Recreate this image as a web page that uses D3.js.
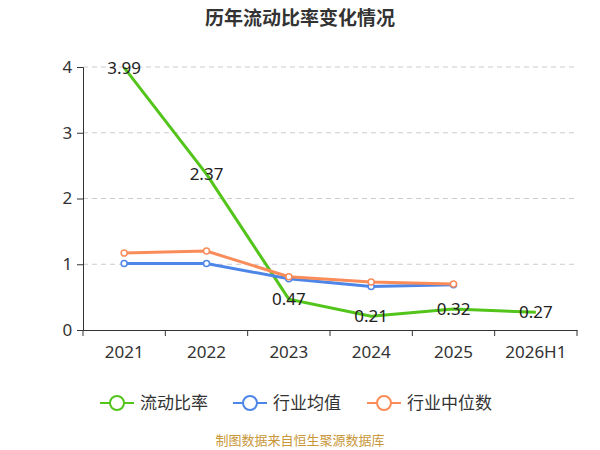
<!DOCTYPE html>
<html><head><meta charset="utf-8">
<script src="https://cdn.jsdelivr.net/npm/d3@7"></script>
<style>body{margin:0;background:#fff;font-family:"Noto Sans","Noto Sans CJK SC",sans-serif}</style>
</head><body><div id="chart"></div>
<script>
const categories = ["2021", "2022", "2023", "2024", "2025", "2026H1"];
const currentRatio = [3.99, 2.37, 0.47, 0.21, 0.32, 0.27];
const industryMean = [1.01, 1.01, 0.78, 0.66, 0.69];
const industryMedian = [1.17, 1.20, 0.81, 0.73, 0.70];
const yTicks = [0, 1, 2, 3, 4];
const seriesNames = ["流动比率", "行业均值", "行业中位数"];
const colors = ["#52c41a", "#4e86e8", "#fa8c5a"];

const W = 600, H = 450;
const m = {left: 83, right: 23, top: 67, bottom: 120};
const svg = d3.select("#chart").append("svg").attr("width", W).attr("height", H);

svg.append("text").attr("x", W / 2).attr("y", 25).attr("text-anchor", "middle")
  .attr("font-size", 19).attr("font-weight", "bold").attr("fill", "#333").text("历年流动比率变化情况");

const x = d3.scaleBand().domain(categories).range([m.left, W - m.right]);
const y = d3.scaleLinear().domain([0, 4]).range([H - m.bottom, m.top]);
const cx = d => x(d) + x.bandwidth() / 2;

svg.append("g").selectAll("line").data(yTicks.slice(1)).enter().append("line")
  .attr("x1", m.left).attr("x2", W - m.right).attr("y1", d => y(d)).attr("y2", d => y(d))
  .attr("stroke", "#ccc").attr("stroke-dasharray", "5,4");

const yAxis = svg.append("g").attr("transform", `translate(${m.left},0)`)
  .call(d3.axisLeft(y).tickValues(yTicks).tickSize(6).tickFormat(d3.format("d")));
const xAxis = svg.append("g").attr("transform", `translate(0,${y(0)})`)
  .call(d3.axisBottom(x).tickSize(6).tickSizeOuter(0));
xAxis.selectAll(".tick line").attr("transform", `translate(${-x.bandwidth() / 2},0)`);
xAxis.append("line").attr("x1", W - m.right).attr("x2", W - m.right).attr("y1", 0).attr("y2", 6).attr("stroke", "#333");
[yAxis, xAxis].forEach(a => {
  a.selectAll("path,line").attr("stroke", "#333");
  a.selectAll("text").attr("font-size", 17).attr("fill", "#333").attr("font-family", "Noto Sans");
});
xAxis.selectAll("text").attr("dy", "1.1em");
yAxis.selectAll("text").attr("dx", "-0.1em");

const line = d3.line().x((d, i) => cx(categories[i])).y(d => y(d));
const series = [currentRatio, industryMean, industryMedian];
series.forEach((s, k) => {
  svg.append("path").datum(s).attr("d", line).attr("fill", "none")
    .attr("stroke", colors[k]).attr("stroke-width", 3);
});
series.slice(1).forEach((s, k) => {
  svg.append("g").selectAll("circle").data(s).enter().append("circle")
    .attr("cx", (d, i) => cx(categories[i])).attr("cy", d => y(d)).attr("r", 3)
    .attr("fill", "#fff").attr("stroke", colors[k + 1]).attr("stroke-width", 1.5);
});
svg.append("g").selectAll("text").data(currentRatio).enter().append("text")
  .attr("x", (d, i) => cx(categories[i])).attr("y", d => y(d) + 6)
  .attr("text-anchor", "middle").attr("font-size", 17).attr("fill", "#222").text(d => d.toFixed(2));

const lx = [100, 233, 367];
seriesNames.forEach((n, k) => {
  const g = svg.append("g").attr("transform", `translate(${lx[k]},403)`);
  g.append("line").attr("x1", 0).attr("x2", 34).attr("stroke", colors[k]).attr("stroke-width", 2);
  g.append("circle").attr("cx", 17).attr("r", 7).attr("fill", "#fff").attr("stroke", colors[k]).attr("stroke-width", 2);
  g.append("text").attr("x", 40).attr("y", 6).attr("font-size", 17).attr("fill", "#333").text(n);
});

svg.append("text").attr("x", W / 2).attr("y", 445).attr("text-anchor", "middle")
  .attr("font-size", 13).attr("fill", "#c8973a").text("制图数据来自恒生聚源数据库");
</script></body></html>
